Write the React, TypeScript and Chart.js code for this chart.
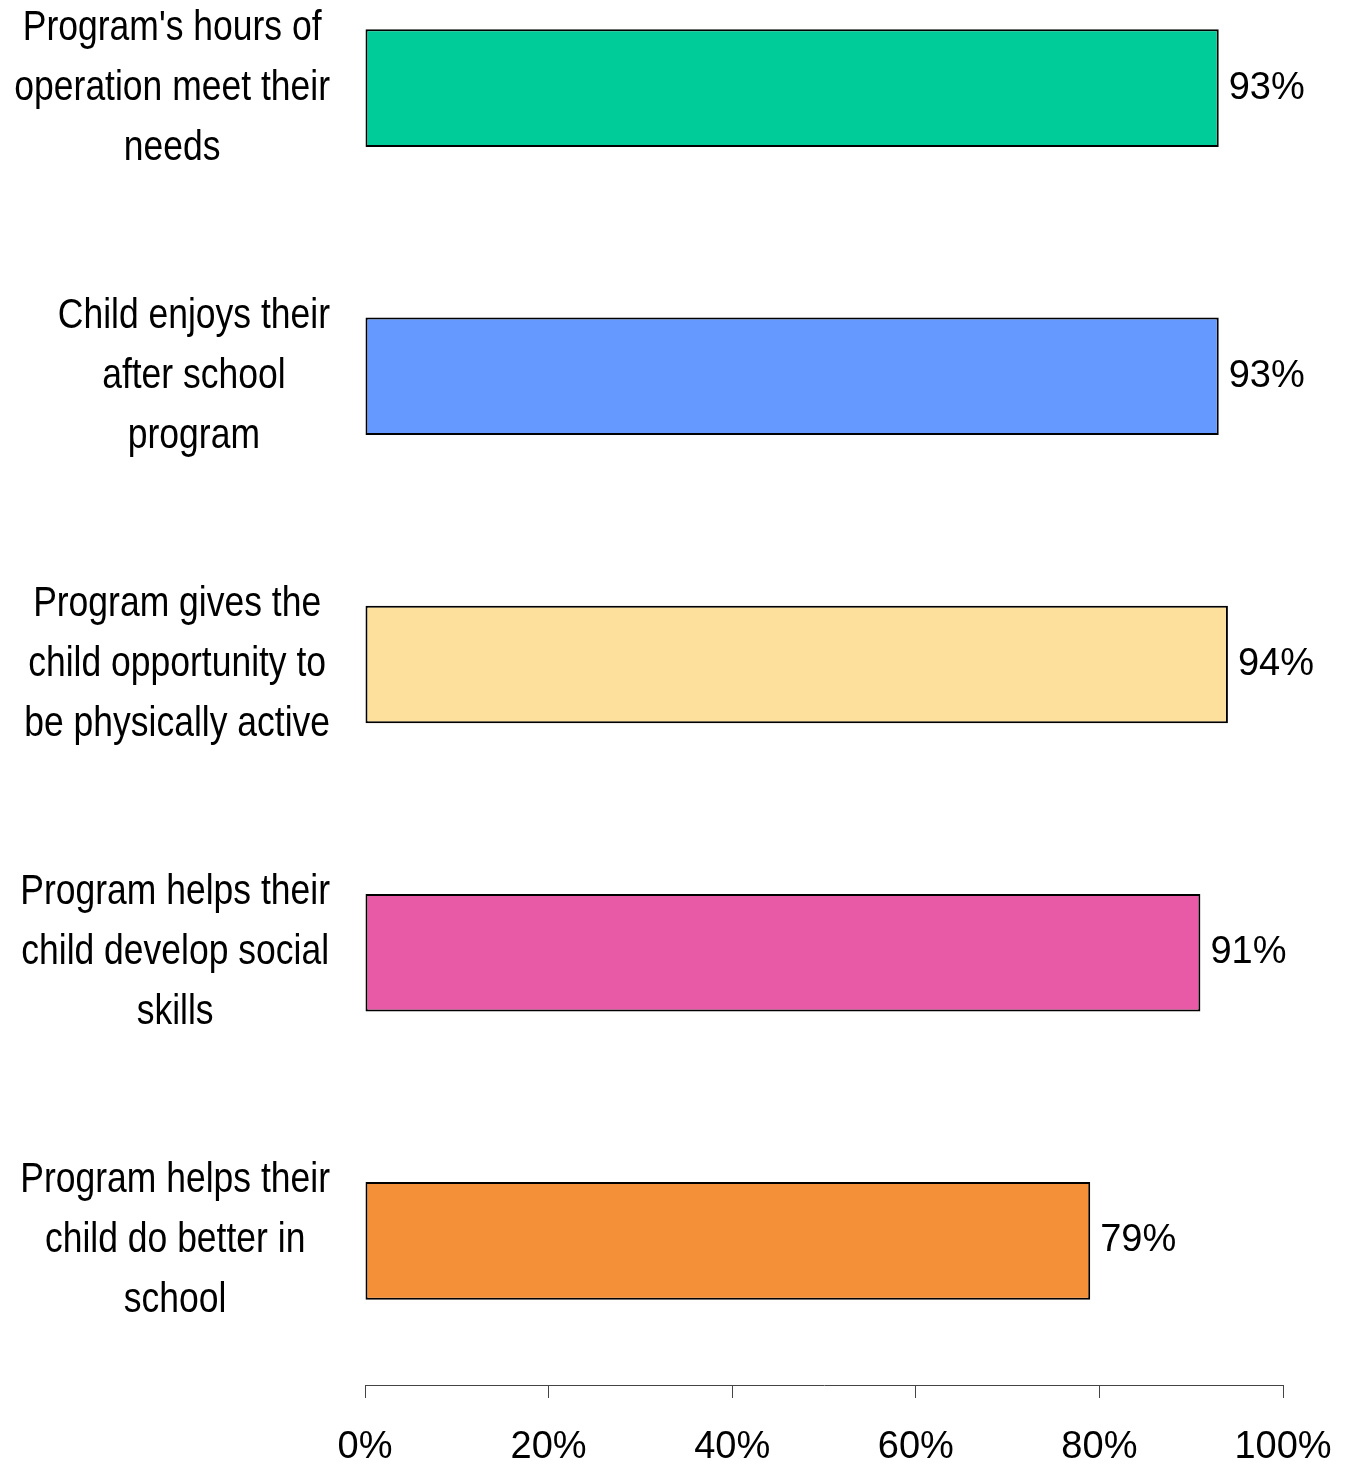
import React, { useEffect, useRef } from "react";
import { Chart, registerables } from "chart.js";

Chart.register(...registerables);

const categories: string[][] = [
  ["Program's hours of", "operation meet their", "needs"],
  ["Child enjoys their", "after school", "program"],
  ["Program gives the", "child opportunity to", "be physically active"],
  ["Program helps their", "child develop social", "skills"],
  ["Program helps their", "child do better in", "school"],
];
const values: number[] = [93, 93, 94, 91, 79];
const barColors: string[] = ["#00CC99", "#6699FF", "#FDE09B", "#E85AA6", "#F49037"];
const xTickMax = 100;
const xTickStep = 20;

const W = 1349;
const H = 1521;
const TOP_SHIFT = -56;

const labelFont = '42px "Liberation Sans", Arial, sans-serif';
const NARROW = 0.845;
const numFont = '38px "Liberation Sans", Arial, sans-serif';

const labelPlugin = {
  id: "customLabels",
  afterDraw(chart: any) {
    const ctx = chart.ctx;
    const yScale = chart.scales.y;
    const meta = chart.getDatasetMeta(0);
    ctx.save();
    // category labels (condensed)
    ctx.font = labelFont;
    ctx.fillStyle = "#000";
    ctx.textBaseline = "middle";
    ctx.textAlign = "center";
    categories.forEach((lines, i) => {
      const yc = yScale.getPixelForValue(i);
      let widest = 0;
      lines.forEach((l) => {
        widest = Math.max(widest, ctx.measureText(l).width * NARROW);
      });
      const cx = 330 - widest / 2;
      const n = lines.length;
      lines.forEach((l, k) => {
        ctx.save();
        ctx.translate(cx, yc + (k - (n - 1) / 2) * 60);
        ctx.scale(NARROW, 1);
        ctx.fillText(l, 0, 0);
        ctx.restore();
      });
    });
    // value labels
    ctx.font = numFont;
    ctx.textAlign = "left";
    meta.data.forEach((bar: any, i: number) => {
      ctx.fillText(values[i] + "%", bar.x + 10, bar.y);
    });
    ctx.restore();
  },
};

export default function App() {
  const ref = useRef<HTMLCanvasElement | null>(null);
  useEffect(() => {
    document.body.style.overflow = "hidden";
    const canvas = ref.current!;
    const chart = new Chart(canvas, {
      type: "bar",
      data: {
        labels: categories.map((c) => c.join(" ")),
        datasets: [
          {
            data: values,
            backgroundColor: barColors,
            borderColor: "#000",
            borderWidth: 2,
            borderSkipped: false,
            categoryPercentage: 1,
            barPercentage: 0.408,
          },
        ],
      },
      options: {
        indexAxis: "y",
        animation: false,
        responsive: false,
        maintainAspectRatio: false,
        events: [],
        layout: { padding: { left: 365, right: 66, top: 0, bottom: 0 } },
        plugins: {
          legend: { display: false },
          tooltip: { enabled: false },
        },
        scales: {
          y: { display: false },
          x: {
            min: 0,
            max: xTickMax,
            afterFit: (scale: any) => {
              scale.height = 80;
              scale.paddingLeft = 0;
              scale.paddingRight = 0;
            },
            border: { display: true, color: "#444", width: 1 },
            grid: {
              display: true,
              drawOnChartArea: false,
              drawTicks: true,
              tickLength: 13,
              color: "#444",
              lineWidth: 1,
            },
            ticks: {
              stepSize: xTickStep,
              padding: 27,
              color: "#000",
              maxRotation: 0,
              font: { family: '"Liberation Sans", Arial, sans-serif', size: 38 },
              callback: (v: any) => v + "%",
            },
          },
        },
      },
      plugins: [labelPlugin],
    } as any);
    return () => chart.destroy();
  }, []);
  return (
    <div style={{ position: "absolute", left: 0, top: TOP_SHIFT, width: W, height: H }}>
      <canvas ref={ref} width={W} height={H} style={{ width: W, height: H, display: "block" }} />
    </div>
  );
}
